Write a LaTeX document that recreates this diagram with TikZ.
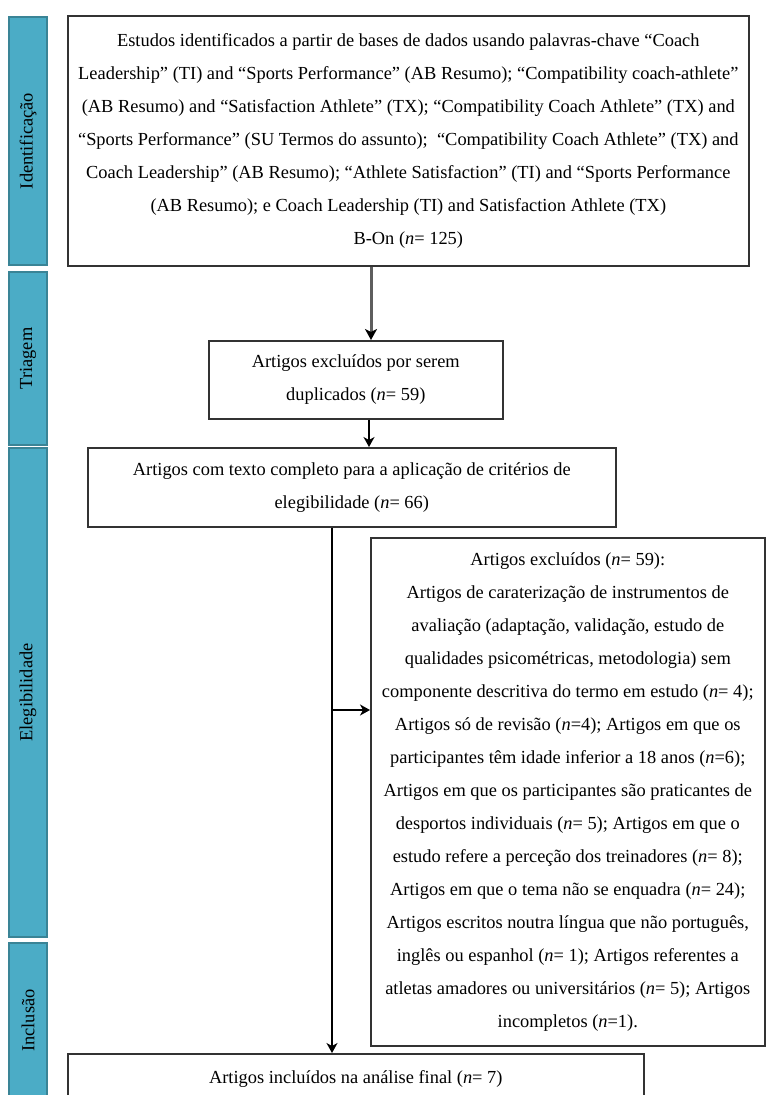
\documentclass[tikz,border=0pt]{standalone}
\usepackage{fontspec}
\setmainfont{Liberation Serif}
\usetikzlibrary{arrows.meta}
\definecolor{barfill}{HTML}{4BACC6}
\definecolor{barline}{HTML}{3A8496}
\definecolor{boxline}{HTML}{333333}
\definecolor{arrgray}{HTML}{5E5E5E}
\tikzset{
  txt/.style={font=\fontsize{18.4}{33}\selectfont, align=center, text=black},
  box/.style={txt, draw=boxline, line width=1.6pt, inner sep=1pt, anchor=north west},
  sidebar/.style={txt, draw=barline, fill=barfill, line width=2pt, rotate=90, inner sep=0pt, minimum height=38pt},
  arr/.style={draw=black, line width=1.4pt, -{Stealth[length=10pt,width=11pt,inset=3pt,color=black]}},
  grayarr/.style={draw=arrgray, line width=3pt, -{Stealth[length=11pt,width=12pt,inset=3pt,color=black]}},
}
\begin{document}
\begin{tikzpicture}[x=1pt,y=-1pt]
\useasboundingbox (0,0) rectangle (766,1095);
\clip (0,0) rectangle (766,1095);
\fill[white] (0,0) rectangle (766,1095);

% side bars
\node[sidebar, minimum width=248pt] (bid) at (28,141) {Identificação};
\node[sidebar, minimum width=173pt] (btr) at (28,358.5) {Triagem};
\node[sidebar, minimum width=489pt] (bel) at (28,692.5) {Elegibilidade};
\node[sidebar, minimum width=155pt] (bin) at (28,1020.5) {Inclusão};

% boxes
\node[box, minimum width=681pt, minimum height=250pt] (top) at (67,15) {%
Estudos identificados a partir de bases de dados usando palavras-chave “Coach\\
Leadership” (TI) and “Sports Performance” (AB Resumo); “Compatibility coach-athlete”\\
(AB Resumo) and “Satisfaction Athlete” (TX); “Compatibility Coach Athlete” (TX) and\\
“Sports Performance” (SU Termos do assunto);\ \ “Compatibility Coach Athlete” (TX) and\\
Coach Leadership” (AB Resumo); “Athlete Satisfaction” (TI) and “Sports Performance\\
(AB Resumo); e Coach Leadership (TI) and Satisfaction Athlete (TX)\\
B-On (\textit{n}= 125)};

\node[box, minimum width=294pt, minimum height=78pt] (tri) at (208,340) {%
Artigos excluídos por serem\\
duplicados (\textit{n}= 59)};

\node[box, minimum width=528pt, minimum height=79pt] (elig) at (87,447) {%
Artigos com texto completo para a aplicação de critérios de\\
elegibilidade (\textit{n}= 66)};

\node[box, minimum width=394pt, minimum height=508pt] (excl) at (370,537) {%
Artigos excluídos (\textit{n}= 59):\\
Artigos de caraterização de instrumentos de\\
avaliação (adaptação, validação, estudo de\\
qualidades psicométricas, metodologia) sem\\
componente descritiva do termo em estudo (\textit{n}= 4);\\
Artigos só de revisão (\textit{n}=4); Artigos em que os\\
participantes têm idade inferior a 18 anos (\textit{n}=6);\\
Artigos em que os participantes são praticantes de\\
desportos individuais (\textit{n}= 5); Artigos em que o\\
estudo refere a perceção dos treinadores (\textit{n}= 8);\\
Artigos em que o tema não se enquadra (\textit{n}= 24);\\
Artigos escritos noutra língua que não português,\\
inglês ou espanhol (\textit{n}= 1); Artigos referentes a\\
atletas amadores ou universitários (\textit{n}= 5); Artigos\\
incompletos (\textit{n}=1).};

\node[box, minimum width=576pt, minimum height=50pt] (fin) at (67,1053) {%
Artigos incluídos na análise final (\textit{n}= 7)};

% connectors
\coordinate (c1) at (371,0);
\coordinate (c2) at (369,0);
\coordinate (c3) at (332,710);
\draw[grayarr] (top.south -| c1) -- (tri.north -| c1);
\draw[arr] (tri.south -| c2) -- (elig.north -| c2);
\draw[arr] (elig.south -| c3) -- (fin.north -| c3);
\draw[arr] (c3) -- (excl.west |- c3);
\end{tikzpicture}
\end{document}
